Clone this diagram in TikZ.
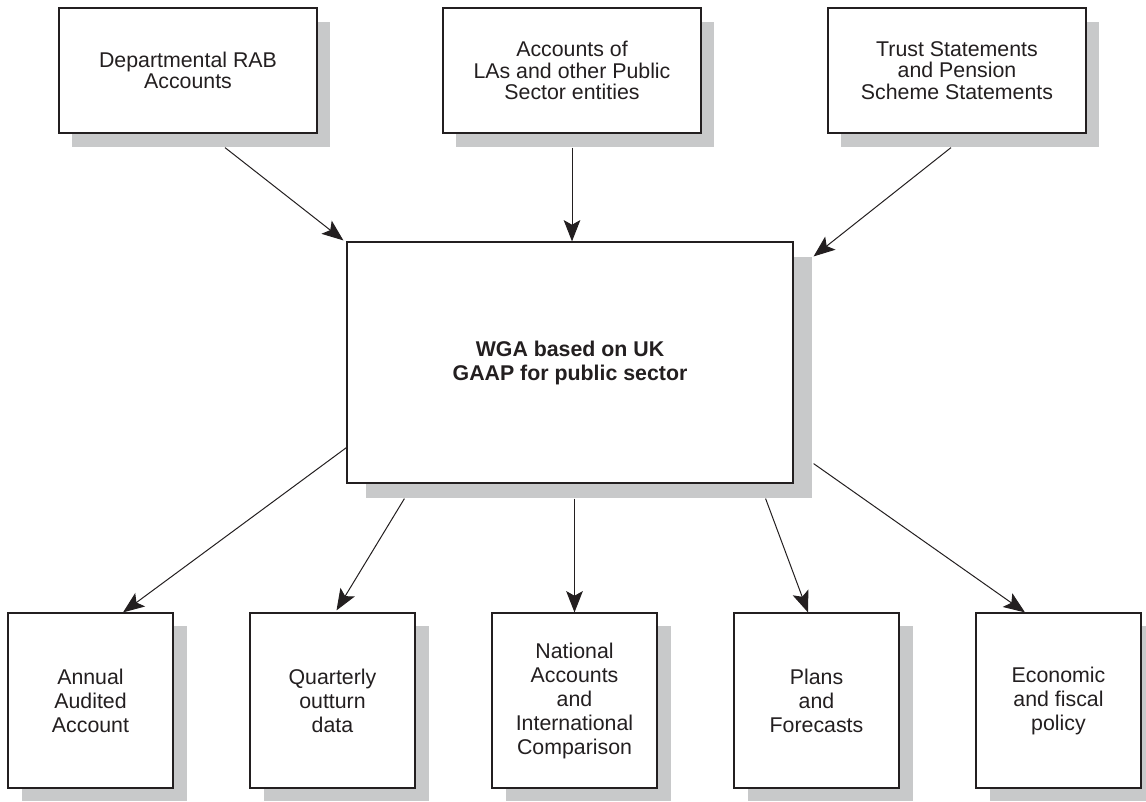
\documentclass[tikz,border=0pt]{standalone}
\usepackage{fontspec}
\setmainfont{Liberation Sans}
\usepackage{tikz}
\usetikzlibrary{shapes.geometric, arrows.meta, shadows, calc}
\definecolor{ink}{RGB}{35,31,32}
\definecolor{shade}{RGB}{200,201,202}
\tikzstyle{source} = [rectangle, minimum width=193.5pt, minimum height=93.75pt, align=center, draw=ink, line width=0.9pt, fill=white, text=ink, font=\fontsize{16}{16.2}\selectfont, drop shadow={shadow xshift=9.75pt, shadow yshift=-10.5pt, fill=shade, opacity=1}]
\tikzstyle{core} = [rectangle, minimum width=334.5pt, minimum height=180.75pt, align=center, draw=ink, line width=0.9pt, fill=white, text=ink, font=\fontsize{16}{18}\selectfont\bfseries, drop shadow={shadow xshift=14.25pt, shadow yshift=-11.25pt, fill=shade, opacity=1}]
\tikzstyle{use} = [rectangle, minimum width=123.75pt, minimum height=131.25pt, align=center, draw=ink, line width=0.9pt, fill=white, text=ink, font=\fontsize{16}{18}\selectfont, drop shadow={shadow xshift=10.5pt, shadow yshift=-9.75pt, fill=shade, opacity=1}]
\tikzstyle{arrow} = [line width=0.75pt, draw=ink, -{Stealth[length=16pt, width=12.5pt, inset=3.5pt]}]

\begin{document}
\begin{tikzpicture}[x=0.75pt, y=-0.75pt]
	\useasboundingbox (0,0) rectangle (1146,801);

	\node[source] (dept) at (188,70.5) {Departmental RAB\\Accounts};
	\node[source] (la_accounts) at (572,70.5) {Accounts of\\LAs and other Public\\Sector entities};
	\node[source] (trust) at (957,70.5) {Trust Statements\\and Pension\\Scheme Statements};

	\node[core] (wga) at (570,362.5) {WGA based on UK\\GAAP for public sector};

	\node[use] (annual) at (90.5,700.5) {Annual\\Audited\\Account};
	\node[use] (quarterly) at (332.5,700.5) {Quarterly\\outturn\\data};
	\node[use] (national) at (574.5,700.5) {National\\Accounts\\and\\International\\Comparison};
	\node[use] (plans) at (816.5,700.5) {Plans\\and\\Forecasts};
	\node[use] (econ) at (1058.5,700.5) {Economic\\and fiscal\\policy};

	\draw[arrow] ([shift={(37,14)}]dept.south) -- ([shift={(-3,-1)}]wga.north west);
	\draw[arrow] ([shift={(0,14)}]la_accounts.south) -- (la_accounts.south |- wga.north);
	\draw[arrow] ([shift={(-6,14)}]trust.south) -- ([shift={(20,15)}]wga.north east);

	\draw[arrow] ([shift={(0,-36)}]wga.south west) -- ([shift={(32.5,0)}]annual.north);
	\draw[arrow] ([shift={(58,15)}]wga.south west) -- ([shift={(4,-2)}]quarterly.north);
	\draw[arrow] ($(wga.south -| national.north)+(0,15)$) -- (national.north);
	\draw[arrow] ([shift={(-28,15)}]wga.south east) -- ([shift={(-8.5,0)}]plans.north);
	\draw[arrow] ([shift={(20,-20)}]wga.south east) -- ([shift={(-33.5,0)}]econ.north);
\end{tikzpicture}
\end{document}
